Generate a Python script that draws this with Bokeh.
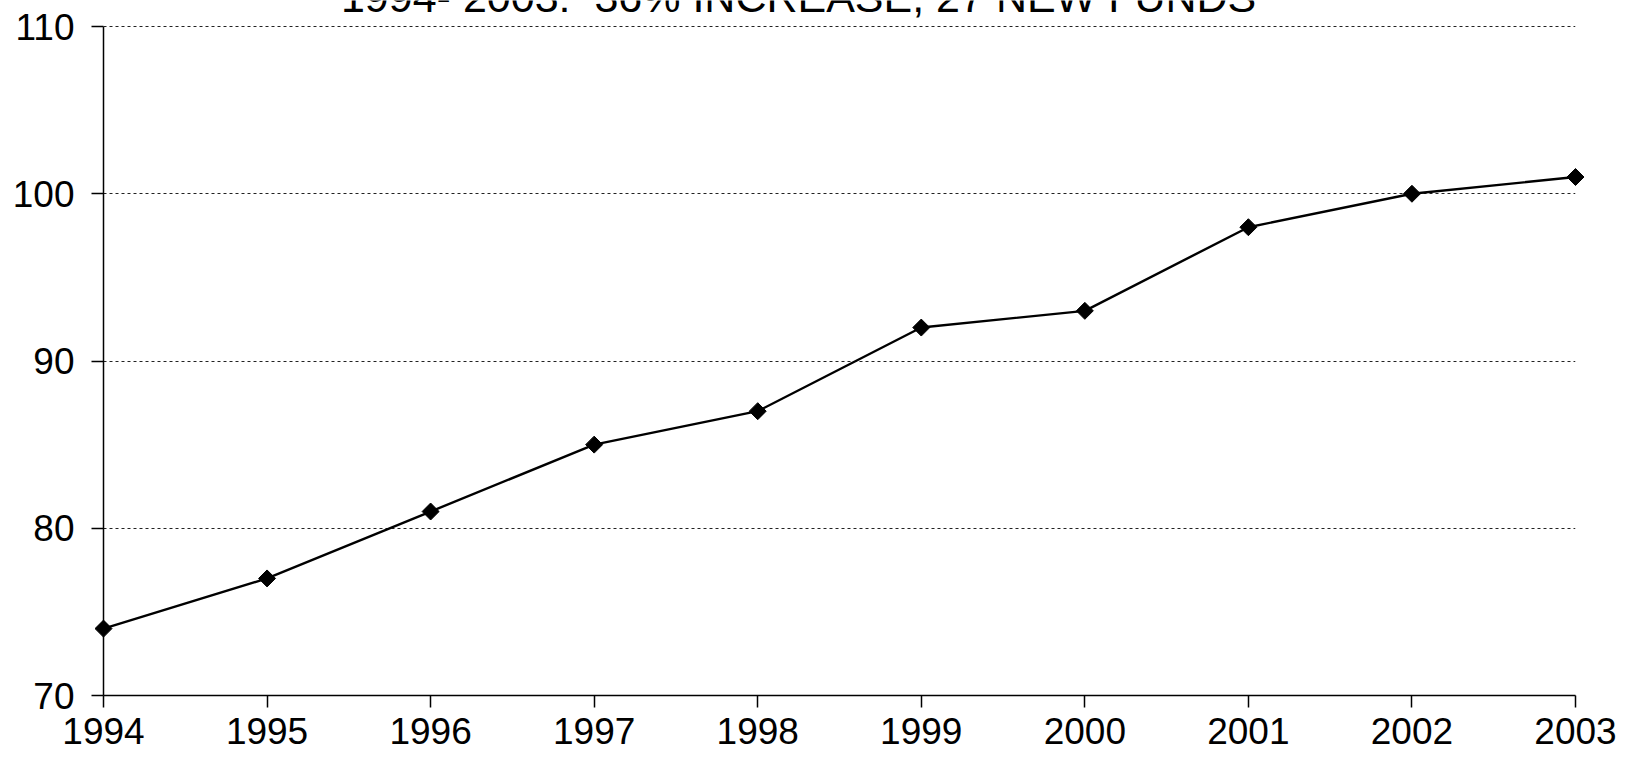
import math
from bokeh.plotting import figure
from bokeh.models import Range1d, FixedTicker, Label
from bokeh.embed import file_html
from bokeh.resources import INLINE

years = [1994, 1995, 1996, 1997, 1998, 1999, 2000, 2001, 2002, 2003]
funds = [74, 77, 81, 85, 87, 92, 93, 98, 100, 101]
y_ticks = [70, 80, 90, 100, 110]
title_text = "1994- 2003:\u00a0 36% INCREASE, 27 NEW FUNDS"

FONT = "Liberation Sans"

# frame reaches the top of the canvas so the (partly cut) title is drawn
p = figure(width=1621, height=751, output_backend="svg", toolbar_location=None,
           x_range=Range1d(years[0], years[-1]),
           y_range=Range1d(y_ticks[0], 111.555),
           min_border_left=103, min_border_right=46, min_border_top=0, min_border_bottom=56)
p.outline_line_color = None
p.background_fill_color = "white"
p.border_fill_color = "white"

p.line(years, funds, line_color="black", line_width=2.4, level="overlay")
p.scatter(years, funds, marker="square", angle=math.pi / 4, size=12,
          fill_color="black", line_color="black", level="overlay")

p.xgrid.grid_line_color = None
p.ygrid.grid_line_color = "#222222"
p.ygrid.grid_line_dash = "3 3"
p.ygrid.grid_line_width = 1
p.ygrid.ticker = FixedTicker(ticks=y_ticks[1:])

p.xaxis.ticker = FixedTicker(ticks=years)
p.yaxis.ticker = FixedTicker(ticks=y_ticks)
p.yaxis.bounds = (y_ticks[0], y_ticks[-1])
for ax in (p.xaxis[0], p.yaxis[0]):
    ax.axis_line_color = "black"
    ax.axis_line_width = 1.5
    ax.major_tick_line_color = "black"
    ax.major_tick_line_width = 1.5
    ax.major_tick_in = 0
    ax.major_tick_out = 12
    ax.minor_tick_line_color = None
    ax.major_label_text_font = FONT
    ax.major_label_text_font_size = "37px"
    ax.major_label_text_color = "black"
p.xaxis.major_label_text_line_height = 0.8
p.xaxis.major_label_standoff = 10
p.yaxis.major_label_standoff = 17

title = Label(x=1998.25, y=111.74, x_units="data", y_units="data",
              text=title_text, text_align="center", text_baseline="alphabetic",
              text_font=FONT, text_font_size="43px", text_color="black")
p.add_layout(title)

open("out.html", "w").write(file_html(p, INLINE))
